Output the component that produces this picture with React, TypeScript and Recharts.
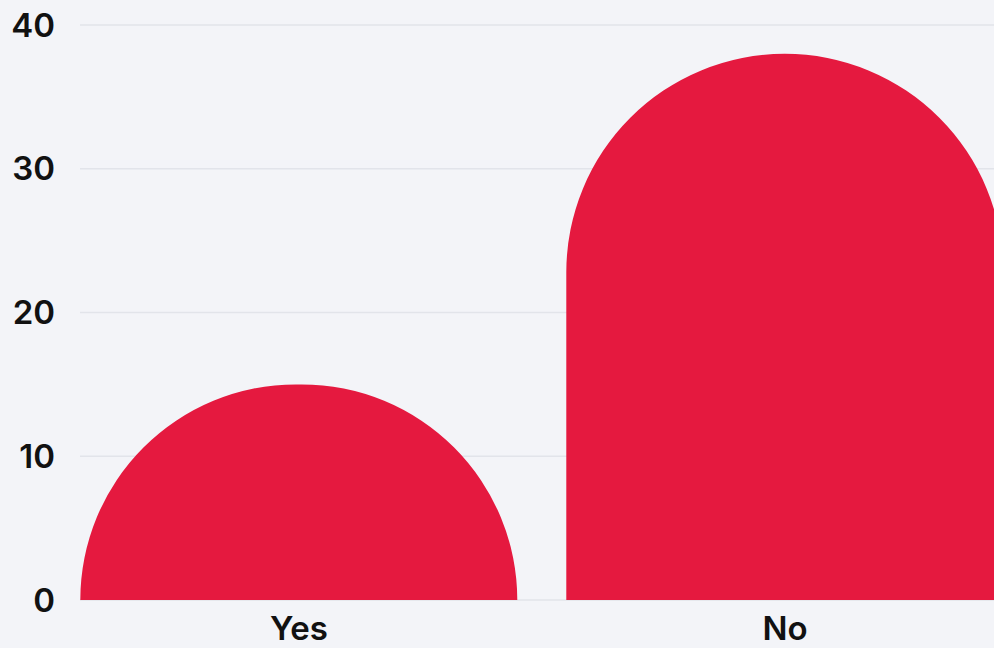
import React from 'react';
import { BarChart, Bar, XAxis, YAxis, CartesianGrid } from 'recharts';

const answers = ['Yes', 'No'];
const counts = [15, 38];
const yTicks = [0, 10, 20, 30, 40];

const BAR_RED = '#e5193f';
const FONT = 'Inter, "DejaVu Sans", sans-serif';

const data = answers.map((answer, i) => ({ answer, count: counts[i] }));

// dome-topped bar: corner radius may go up to the full bar height
const DomeBar = (props: any) => {
  const { x, y, width, height, fill } = props;
  if (!width || !height) return null;
  const r = Math.min(width / 2, height);
  const d = [
    `M ${x},${y + height}`,
    `L ${x},${y + r}`,
    `A ${r} ${r} 0 0 1 ${x + r},${y}`,
    `L ${x + width - r},${y}`,
    `A ${r} ${r} 0 0 1 ${x + width},${y + r}`,
    `L ${x + width},${y + height}`,
    'Z',
  ].join(' ');
  return <path d={d} fill={fill} />;
};

const App: React.FC = () => {
  return (
    <div
      style={{
        position: 'absolute',
        left: 0,
        top: 0,
        width: 994,
        height: 648,
        overflow: 'hidden',
        background: '#f3f4f8',
      }}
    >
      <BarChart
        width={994}
        height={648}
        data={data}
        margin={{ top: 25, right: 0, bottom: 0, left: 0 }}
        barCategoryGap="5%"
      >
        <CartesianGrid vertical={false} stroke="#e2e4ea" strokeWidth={1.5} />
        <XAxis
          dataKey="answer"
          height={48}
          axisLine={false}
          tickLine={false}
          tickMargin={11}
          padding={{ left: -24, right: -34 }}
          tick={{ fill: '#111111', fontSize: 33, fontWeight: 600, fontFamily: FONT }}
        />
        <YAxis
          width={80}
          domain={[0, 40]}
          ticks={yTicks}
          axisLine={false}
          tickLine={false}
          tickMargin={19}
          tick={{ fill: '#111111', fontSize: 33, fontWeight: 600, fontFamily: FONT }}
        />
        <Bar dataKey="count" fill={BAR_RED} shape={DomeBar} isAnimationActive={false} />
      </BarChart>
    </div>
  );
};

export default App;
